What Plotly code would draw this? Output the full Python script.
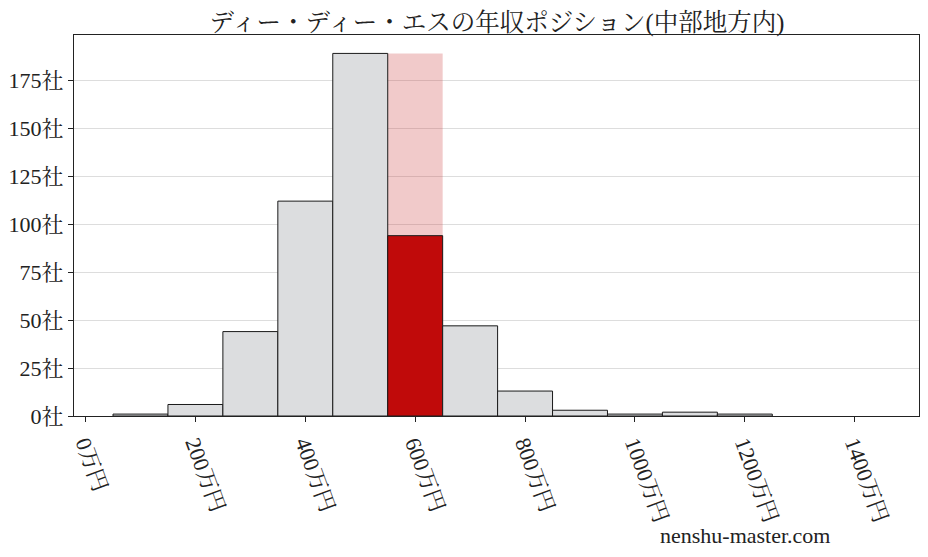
import plotly.graph_objects as go

title = "ディー・ディー・エスの年収ポジション(中部地方内)"
bin_centers = [100, 200, 300, 400, 500, 600, 700, 800, 900, 1000, 1100, 1200]
counts = [1, 6, 44, 112, 189, 94, 47, 13, 3, 1, 2, 1]
highlight_center = 600
y_ticks = [0, 25, 50, 75, 100, 125, 150, 175]
y_labels = [f"{v}社" for v in y_ticks]
x_ticks = [0, 200, 400, 600, 800, 1000, 1200, 1400]
x_labels = [f"{v}万円" for v in x_ticks]
watermark = "nenshu-master.com"

FONT = "Liberation Serif, 'Noto Serif CJK JP', 'Noto Sans CJK JP', serif"

max_count = max(counts)

fig = go.Figure()
# pink background column for highlighted bin
fig.add_trace(go.Bar(
    x=[highlight_center], y=[max_count], width=100,
    marker=dict(color="rgba(205,60,60,0.27)", line=dict(width=0)),
    hoverinfo="skip", showlegend=False))
colors = ["#c00a0a" if c == highlight_center else "#dcdddf" for c in bin_centers]
fig.add_trace(go.Bar(
    x=bin_centers, y=counts, width=100,
    marker=dict(color=colors, line=dict(color="#1a1a1a", width=1)),
    showlegend=False))

# page body has an 8px default margin, so the figure is sized/placed to compensate
fig.update_layout(
    barmode="overlay",
    width=920, height=549,
    margin=dict(l=66, r=9, t=27, b=141),
    paper_bgcolor="white", plot_bgcolor="white",
    font=dict(family=FONT, color="#222", size=22),
    title=dict(text=title, x=0.5315, xanchor="center", y=0.99, yanchor="top",
               font=dict(size=24.5, family=FONT, color="#222")),
    xaxis=dict(range=[-21, 1517], tickvals=x_ticks, ticktext=x_labels,
               tickangle=70, ticks="outside", ticklen=5, tickcolor="#222",
               showline=True, linecolor="#222", linewidth=1, mirror=True,
               showgrid=False, zeroline=False, automargin=False,
               tickfont=dict(size=22, family=FONT)),
    yaxis=dict(range=[0, 198.6], tickvals=y_ticks, ticktext=y_labels,
               ticks="outside", ticklen=5, tickcolor="#222",
               showline=True, linecolor="#222", linewidth=1, mirror=True,
               showgrid=True, gridcolor="#dddddd", gridwidth=1, zeroline=False,
               automargin=False,
               tickfont=dict(size=22, family=FONT)),
    annotations=[dict(text=watermark, xref="paper", yref="paper",
                      x=0.794, y=-0.314, xanchor="center", yanchor="middle",
                      showarrow=False, font=dict(size=22, family=FONT, color="#222"))],
)

fig.write_html("out.html")
